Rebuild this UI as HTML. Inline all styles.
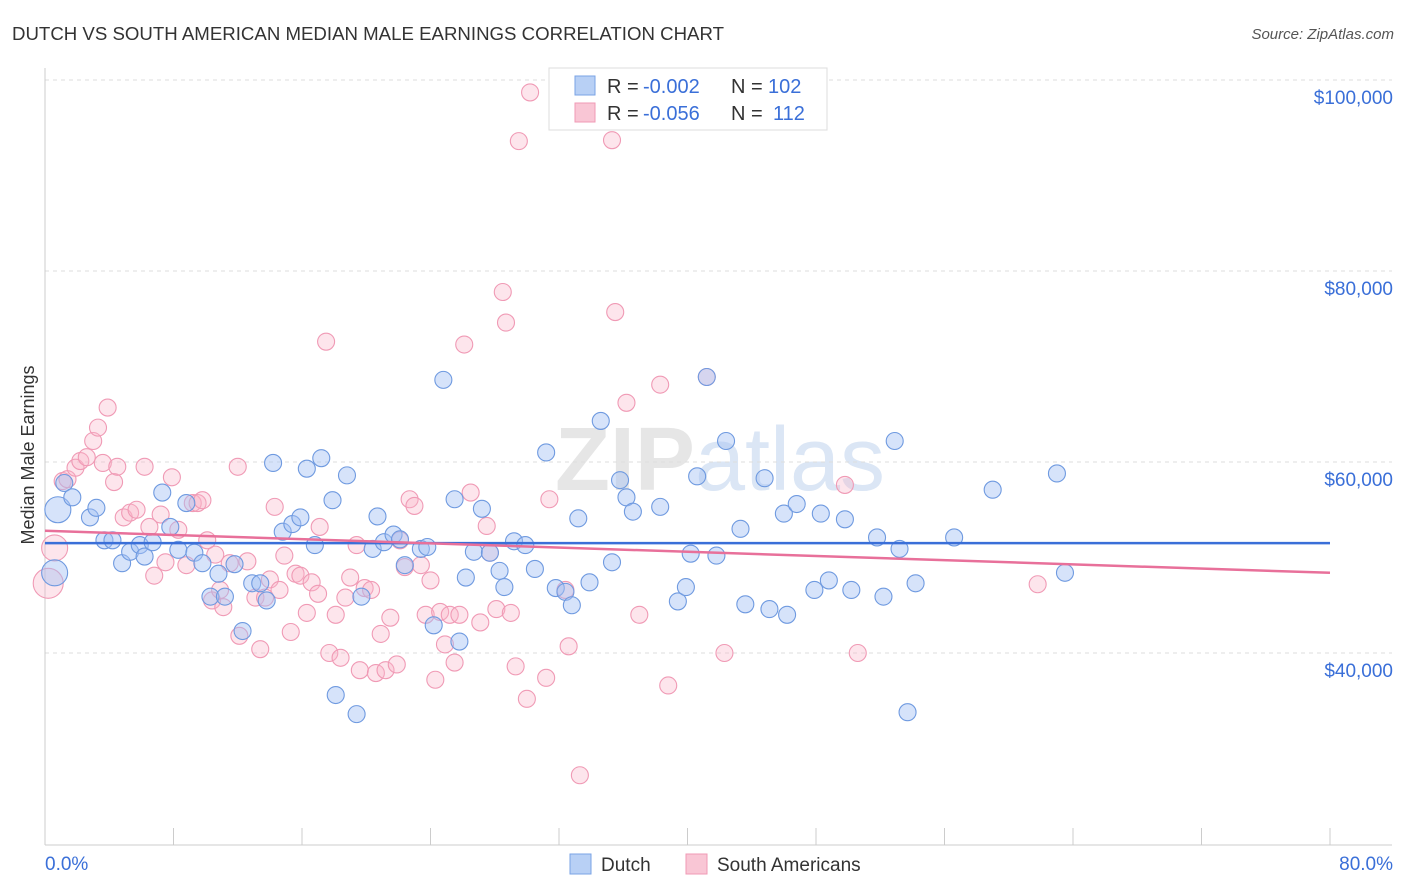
<!DOCTYPE html>
<html><head><meta charset="utf-8">
<style>
body{margin:0;background:#fff;font-family:"Liberation Sans",sans-serif;}
#wrap{position:relative;width:1406px;height:892px;overflow:hidden;}
</style></head>
<body>
<div id="wrap">
<svg id="chart" width="1406" height="892" xmlns="http://www.w3.org/2000/svg">
<text x="12" y="40" font-size="18" fill="#333" textLength="712" lengthAdjust="spacingAndGlyphs">DUTCH VS SOUTH AMERICAN MEDIAN MALE EARNINGS CORRELATION CHART</text>
<text x="1394" y="39" font-size="15" fill="#555" font-style="italic" text-anchor="end">Source: ZipAtlas.com</text>
<text x="720" y="490" font-size="90" fill="#e6e6e6" text-anchor="middle" font-weight="bold">ZIP<tspan fill="#dbe6f5" font-weight="normal">atlas</tspan></text>
<g id="grid"></g>
<g id="axes"></g>
<g id="points"></g>
<g id="trends"></g>
<text transform="translate(34,455) rotate(-90)" font-size="18" fill="#333" text-anchor="middle">Median Male Earnings</text>
<g>
<rect x="549" y="68" width="278" height="62" fill="#fff" stroke="#ddd"/>
<rect x="575" y="76" width="20" height="19" fill="#b8d0f5" stroke="#7aa3e5"/>
<text x="607" y="93" font-size="20" fill="#333">R =</text>
<text x="643" y="93" font-size="20" fill="#3a6fd8">-0.002</text>
<text x="731" y="93" font-size="20" fill="#333">N =</text>
<text x="768" y="93" font-size="20" fill="#3a6fd8">102</text>
<rect x="575" y="103" width="20" height="19" fill="#f9c6d5" stroke="#f09ab5"/>
<text x="607" y="120" font-size="20" fill="#333">R =</text>
<text x="643" y="120" font-size="20" fill="#3a6fd8">-0.056</text>
<text x="731" y="120" font-size="20" fill="#333">N =</text>
<text x="773" y="120" font-size="20" fill="#3a6fd8">112</text>
</g>
<g>
<rect x="570" y="854" width="21" height="20" fill="#b8d0f5" stroke="#7aa3e5"/>
<text x="601" y="871" font-size="19" fill="#333">Dutch</text>
<rect x="686" y="854" width="21" height="20" fill="#f9c6d5" stroke="#f09ab5"/>
<text x="717" y="871" font-size="19" fill="#333">South Americans</text>
</g>
</svg>
</div>
<script>
const yTicks=[40000,60000,80000,100000];
const yTickLabels=["$40,000","$60,000","$80,000","$100,000"];
const xTickPcts=[0,8,16,24,32,40,48,56,64,72,80];
const xEndLabels=["0.0%","80.0%"];
const dutchX=[0.8,0.6,1.2,1.7,2.8,3.2,3.7,4.2,4.8,5.3,5.9,6.2,6.7,7.3,7.8,8.3,8.8,9.3,9.8,10.3,10.8,11.2,11.8,12.3,12.9,13.4,13.8,14.2,14.8,15.4,15.9,16.3,16.8,17.2,17.9,18.1,18.8,19.4,19.7,20.4,20.7,21.1,21.7,22.1,22.4,23.4,23.8,24.2,24.8,25.5,25.8,26.2,26.7,27.2,27.7,28.3,28.6,29.2,29.9,30.5,31.2,31.8,32.4,32.8,33.2,33.9,34.6,35.3,35.8,36.2,36.6,38.3,39.4,39.9,40.2,40.6,41.2,41.8,42.4,43.3,43.6,44.8,45.1,46.0,46.2,46.8,47.9,48.3,48.8,49.8,50.2,51.8,52.2,52.9,53.2,53.7,54.2,56.6,59.0,63.0,63.5];
const dutchY=[55.0,48.4,57.8,56.3,54.2,55.2,51.8,51.8,49.4,50.6,51.3,50.1,51.6,56.8,53.2,50.8,55.7,50.5,49.4,45.9,48.3,45.9,49.3,42.3,47.3,47.3,45.5,59.9,52.7,53.5,54.2,59.3,51.3,60.4,56.0,35.6,58.6,33.6,45.9,50.9,54.3,51.6,52.4,51.9,49.2,50.9,51.1,42.9,68.6,56.1,41.2,47.9,50.6,55.1,50.5,48.6,46.9,51.7,51.3,48.8,61.0,46.8,46.4,45.0,54.1,47.4,64.3,49.5,58.1,56.3,54.8,55.3,45.4,46.9,50.4,58.5,68.9,50.2,62.2,53.0,45.1,58.3,44.6,54.6,44.0,55.6,46.6,54.6,47.6,54.0,46.6,52.1,45.9,62.2,50.9,33.8,47.3,52.1,57.1,58.8,48.4];
const saX=[0.2,0.6,1.1,1.4,1.9,2.2,2.6,3.0,3.3,3.6,3.9,4.3,4.5,4.9,5.3,5.7,6.2,6.5,6.8,7.2,7.5,7.9,8.3,8.8,9.2,9.5,9.8,10.1,10.4,10.6,10.9,11.1,11.5,12.0,12.1,12.6,13.1,13.4,13.7,14.0,14.3,14.6,14.9,15.3,15.6,15.9,16.3,16.6,17.0,17.1,17.5,17.7,18.1,18.4,18.7,19.0,19.4,19.6,19.9,20.3,20.6,20.9,21.2,21.5,21.9,22.1,22.4,22.7,23.0,23.4,23.7,24.0,24.3,24.6,24.9,25.2,25.5,25.8,26.1,26.5,27.1,27.5,27.7,28.1,28.5,28.7,29.0,29.3,29.5,30.0,30.2,31.2,31.4,32.4,32.6,33.3,35.3,35.5,36.2,37.0,38.3,38.8,41.2,42.3,49.8,50.6,61.8];
const saY=[47.3,51.0,58.0,58.2,59.4,60.1,60.5,62.2,63.6,59.9,65.7,57.9,59.5,54.2,54.7,55.0,59.5,53.2,48.1,54.5,49.5,58.4,52.9,49.2,55.7,55.7,56.0,51.8,45.5,50.3,46.6,44.8,49.4,59.5,41.8,49.6,45.8,40.4,45.8,47.7,55.3,46.6,50.2,42.2,48.3,48.1,44.2,47.4,46.2,53.2,72.6,40.0,44.0,39.5,45.8,47.9,51.3,38.2,46.8,46.6,37.9,42.0,38.2,43.7,38.8,51.8,49.0,56.1,55.4,49.2,44.0,47.6,37.2,44.3,40.9,44.0,39.0,44.0,72.3,56.8,43.2,53.3,50.5,44.6,77.8,74.6,44.2,38.6,93.6,35.2,98.7,37.4,56.1,46.6,40.7,27.2,93.7,75.7,66.2,44.0,68.1,36.6,68.9,40.0,57.6,40.0,47.2];
const dutchTrend=[51.5,51.5];
const saTrend=[52.8,48.4];

const NS="http://www.w3.org/2000/svg";
const X0=45,X1=1330;
function xs(p){return X0+(p/80)*(X1-X0);}
function ys(v){return 80+(100000-v)/20000*191;}
function mk(tag,attrs,parent){const e=document.createElementNS(NS,tag);for(const k in attrs)e.setAttribute(k,attrs[k]);parent.appendChild(e);return e;}
const grid=document.getElementById('grid'),axes=document.getElementById('axes'),pts=document.getElementById('points'),tr=document.getElementById('trends');
yTicks.forEach((v,i)=>{
  const l=mk('line',{x1:45,x2:1392,y1:ys(v),y2:ys(v),stroke:'#ddd','stroke-dasharray':'4,4'},grid);
  
  
  const t=mk('text',{x:1393,y:ys(v)+24,'font-size':19,fill:'#3a6fd8','text-anchor':'end'},axes);
  t.textContent=yTickLabels[i];
  
  
});
const ax=mk('line',{x1:45,x2:1392,y1:845,y2:845,stroke:'#ccc'},axes);


const ayl=mk('line',{x1:45,x2:45,y1:68,y2:845,stroke:'#ccc'},axes);


xTickPcts.forEach(p=>{
  const t=mk('line',{x1:xs(p),x2:xs(p),y1:828,y2:845,stroke:'#ccc'},axes);
  
  
});
const xl0=mk('text',{x:45,y:870,'font-size':19,fill:'#3a6fd8'},axes);
xl0.textContent=xEndLabels[0];


const xl1=mk('text',{x:1393,y:870,'font-size':19,fill:'#3a6fd8','text-anchor':'end'},axes);
xl1.textContent=xEndLabels[1];


function drawPts(X,Y,fill,stroke,name){
  X.forEach((p,i)=>{
    let r=8.5; if(i<2) r=13;
    if(name==='south-american-point'&&i===0) r=15;
    const c=mk('circle',{cx:xs(p),cy:ys(Y[i]*1000),r:r,fill:fill,stroke:stroke,'stroke-width':1.1},pts);
    
    
  });
}
drawPts(saX,saY,'rgba(248,180,200,0.35)','#f09ab5','south-american-point');
drawPts(dutchX,dutchY,'rgba(164,194,244,0.45)','#6f9ae0','dutch-point');
const t1=mk('line',{x1:xs(0),x2:xs(80),y1:ys(dutchTrend[0]*1000),y2:ys(dutchTrend[1]*1000),stroke:'#3a6fd8','stroke-width':2.5},tr);


const t2=mk('line',{x1:xs(0),x2:xs(80),y1:ys(saTrend[0]*1000),y2:ys(saTrend[1]*1000),stroke:'#e8709a','stroke-width':2.5},tr);


</script>
</body></html>
